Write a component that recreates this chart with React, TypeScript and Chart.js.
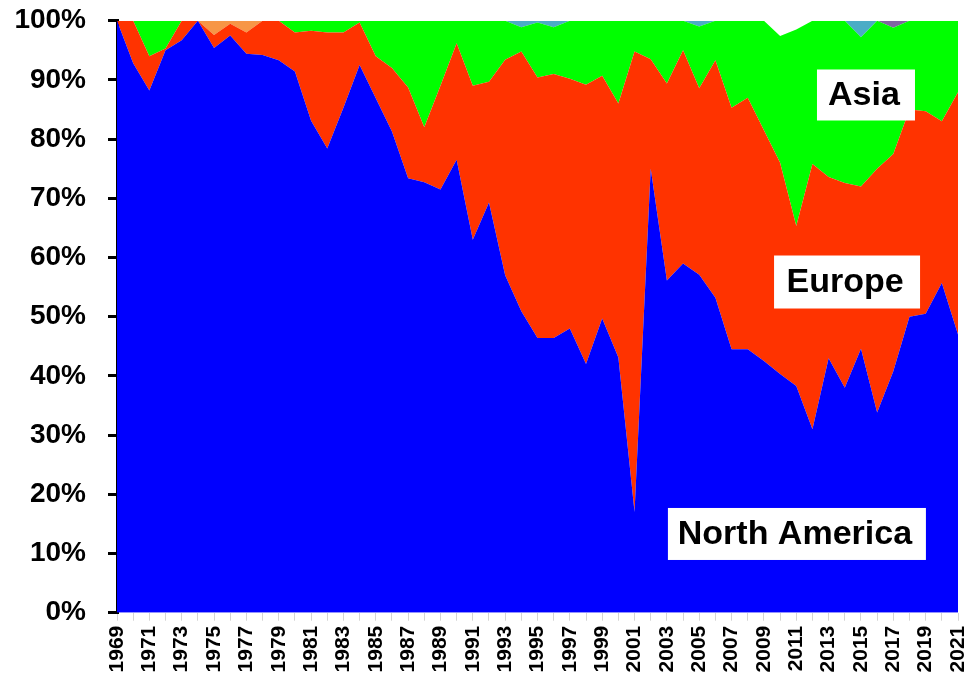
import React, { useEffect, useRef } from 'react';
import { Chart, registerables } from 'chart.js';

Chart.register(...registerables);

const years = [
  '1969', '1970', '1971', '1972', '1973', '1974', '1975', '1976', '1977', '1978',
  '1979', '1980', '1981', '1982', '1983', '1984', '1985', '1986', '1987', '1988',
  '1989', '1990', '1991', '1992', '1993', '1994', '1995', '1996', '1997', '1998',
  '1999', '2000', '2001', '2002', '2003', '2004', '2005', '2006', '2007', '2008',
  '2009', '2010', '2011', '2012', '2013', '2014', '2015', '2016', '2017', '2018',
  '2019', '2020', '2021',
];

const northAmerica = [
  100, 92.8, 88.2, 95, 96.7, 100, 95.4, 97.5, 94.4, 94.2,
  93.3, 91.4, 83.1, 78.4, 85.3, 92.5, 86.9, 81.3, 73.4, 72.7,
  71.5, 76.5, 63, 69.3, 57, 50.9, 46.4, 46.4, 48, 42,
  49.7, 43.1, 17, 75, 56.1, 59, 57.1, 53.2, 44.5, 44.5,
  42.5, 40.3, 38.3, 31, 43, 38, 44.6, 33.8, 40.8, 50,
  50.5, 55.7, 47,
];

const europe = [
  0, 7.2, 5.8, 0.3, 3.3, 0, 2.2, 2.0, 3.6, 5.8,
  6.7, 6.6, 15.2, 19.6, 12.7, 7.2, 7.1, 10.7, 15.3, 9.3,
  17.5, 19.7, 26, 20.4, 36.4, 43.9, 44, 44.6, 42.2, 47.2,
  41, 42.9, 77.8, 18.5, 33.3, 36, 31.5, 40.1, 40.8, 42.5,
  39, 35.7, 27, 44.8, 30.6, 34.6, 27.4, 41.2, 36.7, 35,
  34.2, 27.3, 40.9,
];

const asia = [
  0, 0, 6, 4.7, 0, 0, 0, 0, 0, 0,
  0, 2, 1.7, 2, 2, 0.3, 6, 8, 11.3, 18,
  11, 3.8, 11, 10.3, 6.6, 4.1, 9.3, 7.9, 9.8, 10.8,
  9.3, 14, 5.2, 6.5, 10.6, 5, 10.4, 6.7, 14.7, 13,
  18.5, 21.4, 33.2, 24.2, 26.4, 27.4, 25.2, 25, 21.3, 15,
  15.3, 17, 12.1,
];

const africa = [
  0, 0, 0, 0, 0, 0, 2.4, 0.5, 2.0, 0,
  0, 0, 0, 0, 0, 0, 0, 0, 0, 0,
  0, 0, 0, 0, 0, 0, 0, 0, 0, 0,
  0, 0, 0, 0, 0, 0, 0, 0, 0, 0,
  0, 0, 0, 0, 0, 0, 0, 0, 0, 0,
  0, 0, 0,
];

const southAmerica = [
  0, 0, 0, 0, 0, 0, 0, 0, 0, 0,
  0, 0, 0, 0, 0, 0, 0, 0, 0, 0,
  0, 0, 0, 0, 0, 1.1, 0.3, 1.1, 0, 0,
  0, 0, 0, 0, 0, 0, 1.0, 0, 0, 0,
  0, 0, 0, 0, 0, 0, 2.8, 0, 0, 0,
  0, 0, 0,
];

const oceania = [
  0, 0, 0, 0, 0, 0, 0, 0, 0, 0,
  0, 0, 0, 0, 0, 0, 0, 0, 0, 0,
  0, 0, 0, 0, 0, 0, 0, 0, 0, 0,
  0, 0, 0, 0, 0, 0, 0, 0, 0, 0,
  0, 0, 0, 0, 0, 0, 0, 0, 1.2, 0,
  0, 0, 0,
];

const other = [
  0, 0, 0, 0, 0, 0, 0, 0, 0, 0,
  0, 0, 0, 0, 0, 0, 0, 0, 0, 0,
  0, 0, 0, 0, 0, 0, 0, 0, 0, 0,
  0, 0, 0, 0, 0, 0, 0, 0, 0, 0,
  0, 2.6, 1.5, 0, 0, 0, 0, 0, 0, 0,
  0, 0, 0,
];

const yTicks = ['0%', '10%', '20%', '30%', '40%', '50%', '60%', '70%', '80%', '90%', '100%'];

const regionNames = ['Asia', 'Europe', 'North America'];

// placement of the in-chart region labels (category index, percent value, box size)
const labelPlacement = [
  { xi: 46.31, yv: 87.45, w: 98, h: 51 },
  { xi: 45.14, yv: 55.86, w: 146, h: 53 },
  { xi: 42.04, yv: 13.3, w: 258, h: 52 },
];

const FONT = '"Liberation Sans", Arial, Helvetica, sans-serif';

const regionLabelPlugin = {
  id: 'regionLabels',
  afterDatasetsDraw(chart: any) {
    const { ctx } = chart;
    const xs = chart.scales.x;
    const ys = chart.scales.y;
    ctx.save();
    ctx.font = `bold 34px ${FONT}`;
    ctx.textAlign = 'center';
    ctx.textBaseline = 'middle';
    regionNames.forEach((name, i) => {
      const p = labelPlacement[i];
      const cx = xs.getPixelForValue(p.xi);
      const cy = ys.getPixelForValue(p.yv);
      ctx.fillStyle = '#ffffff';
      ctx.fillRect(cx - p.w / 2, cy - p.h / 2, p.w, p.h);
      ctx.fillStyle = '#000000';
      ctx.fillText(name, cx - 2, cy + 1);
    });
    ctx.restore();
  },
};

function makeSet(label: string, data: number[], color: string, fill: any) {
  return {
    label,
    data,
    backgroundColor: color,
    borderColor: color,
    borderWidth: 0,
    pointRadius: 0,
    pointHoverRadius: 0,
    tension: 0,
    fill,
  };
}

export default function App() {
  const canvasRef = useRef<HTMLCanvasElement | null>(null);

  useEffect(() => {
    if (!canvasRef.current) return;
    const chart = new Chart(canvasRef.current, {
      type: 'line',
      data: {
        labels: years,
        datasets: [
          makeSet('North America', northAmerica, '#0000FF', 'origin'),
          makeSet('Europe', europe, '#FF3300', '-1'),
          makeSet('Asia', asia, '#00FF00', '-1'),
          makeSet('Africa', africa, '#F79646', '-1'),
          makeSet('South America', southAmerica, '#4BACC6', '-1'),
          makeSet('Oceania', oceania, '#8064A2', '-1'),
          makeSet('Other', other, '#FFFFFF', '-1'),
        ],
      },
      options: {
        animation: false,
        responsive: false,
        events: [],
        layout: { padding: { top: 20.7, right: 9, left: 0, bottom: 0 } },
        plugins: {
          legend: { display: false },
          tooltip: { enabled: false },
          title: { display: false },
        },
        elements: { line: { borderWidth: 0 } },
        scales: {
          x: {
            type: 'category',
            offset: false,
            grid: {
              display: true,
              drawOnChartArea: false,
              drawTicks: true,
              tickLength: 8,
              color: '#d4d4d4',
              lineWidth: 1,
            },
            border: { display: false },
            ticks: {
              autoSkip: false,
              maxRotation: 90,
              minRotation: 90,
              padding: 5,
              color: '#000000',
              font: { family: FONT, size: 21, weight: 'bold' },
              callback: (_v: any, idx: number) => (idx % 2 === 0 ? years[idx] : ''),
            },
            afterFit: (scale: any) => {
              scale.height = 64.3;
              scale.paddingLeft = 0;
              scale.paddingRight = 0;
            },
          },
          y: {
            stacked: true,
            min: 0,
            max: 100,
            z: 1,
            grid: {
              display: true,
              drawOnChartArea: false,
              drawTicks: true,
              tickLength: 9,
              color: '#000000',
              lineWidth: 3,
            },
            border: { display: true, color: '#000000', width: 3 },
            ticks: {
              stepSize: 10,
              padding: 22,
              color: '#000000',
              font: { family: FONT, size: 28, weight: 'bold' },
              callback: (v: any) => yTicks[Math.round(Number(v) / 10)],
            },
            afterFit: (scale: any) => {
              scale.width = 117;
              scale.paddingTop = 0;
              scale.paddingBottom = 0;
            },
          },
        },
      },
      plugins: [regionLabelPlugin],
    } as any);
    return () => chart.destroy();
  }, []);

  return (
    <div style={{ position: 'absolute', left: 0, top: 0, width: 967, height: 677, background: '#ffffff' }}>
      <canvas ref={canvasRef} width={967} height={677} style={{ width: 967, height: 677, display: 'block' }} />
    </div>
  );
}
